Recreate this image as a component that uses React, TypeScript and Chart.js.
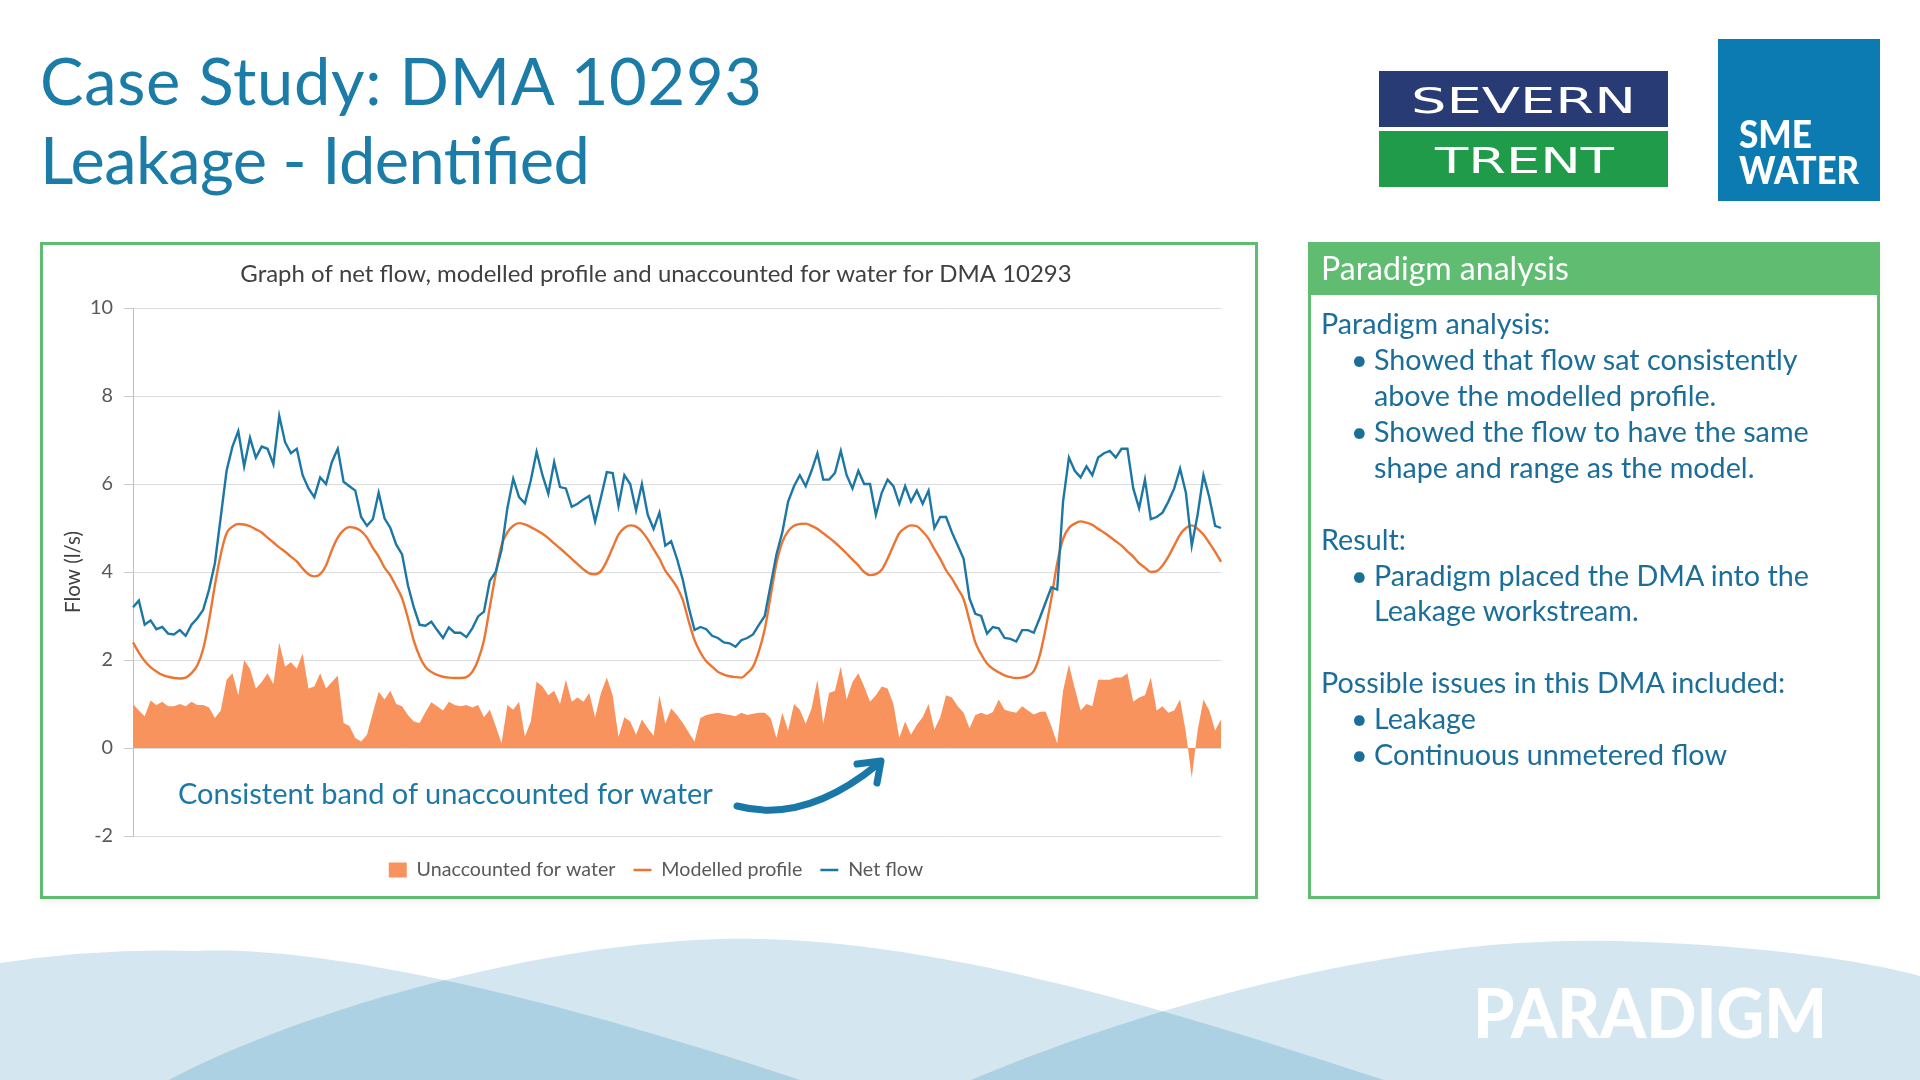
import React, { useEffect, useMemo, useRef } from 'react';
import { Chart, registerables } from 'chart.js';

Chart.register(...registerables);

const FONT = "Lato, 'Open Sans', 'Noto Sans', sans-serif";

// ---- chart text ----
const chartTitle = 'Graph of net flow, modelled profile and unaccounted for water for DMA 10293';
const seriesNames = ['Unaccounted for water', 'Modelled profile', 'Net flow'];
const yAxisTitle = 'Flow (l/s)';
const yMin = -2;
const yMax = 10;
const yStep = 2;

// ---- series (30-minute readings, ~4 days) ----
const netFlow = [
  3.2, 3.35, 2.8, 2.9, 2.7, 2.75, 2.6, 2.58, 2.68, 2.55, 2.8, 2.95, 3.14, 3.6, 4.2, 5.25,
  6.3, 6.85, 7.2, 6.4, 7.05, 6.6, 6.85, 6.8, 6.45, 7.55, 6.95, 6.7, 6.8, 6.2, 5.9, 5.7,
  6.15, 6.0, 6.5, 6.8, 6.05, 5.95, 5.85, 5.25, 5.05, 5.2, 5.8, 5.22, 5.0, 4.62, 4.4, 3.7,
  3.2, 2.8, 2.78, 2.87, 2.68, 2.5, 2.74, 2.62, 2.62, 2.52, 2.72, 2.99, 3.1, 3.8, 4.0, 4.5,
  5.45, 6.12, 5.7, 5.56, 6.08, 6.73, 6.2, 5.78, 6.5, 5.93, 5.9, 5.48, 5.55, 5.65, 5.73, 5.15,
  5.7, 6.27, 6.25, 5.5, 6.2, 6.0, 5.4, 6.0, 5.3, 4.98, 5.35, 4.6, 4.7, 4.3, 3.82, 3.2,
  2.68, 2.75, 2.7, 2.55, 2.5, 2.4, 2.38, 2.3, 2.45, 2.5, 2.58, 2.8, 3.0, 3.7, 4.4, 4.9,
  5.6, 5.95, 6.2, 5.95, 6.3, 6.7, 6.1, 6.1, 6.25, 6.75, 6.2, 5.9, 6.3, 6.0, 6.0, 5.3,
  5.8, 6.1, 5.95, 5.55, 5.95, 5.6, 5.85, 5.55, 5.85, 5.0, 5.25, 5.25, 4.9, 4.6, 4.3, 3.4,
  3.05, 3.0, 2.6, 2.75, 2.72, 2.5, 2.48, 2.42, 2.68, 2.68, 2.62, 2.95, 3.3, 3.65, 3.6, 5.6,
  6.6, 6.3, 6.15, 6.4, 6.2, 6.6, 6.7, 6.75, 6.6, 6.8, 6.8, 5.9, 5.45, 6.1, 5.2, 5.25,
  5.35, 5.6, 5.9, 6.35, 5.8, 4.6, 5.3, 6.2, 5.7, 5.05, 5.0,
];

const modelledProfile = [
  2.4, 2.17, 1.98, 1.84, 1.74, 1.66, 1.62, 1.59, 1.58, 1.6, 1.7, 1.88, 2.25, 2.9, 3.7, 4.4,
  4.88, 5.03, 5.09, 5.08, 5.04, 4.97, 4.9, 4.78, 4.67, 4.56, 4.46, 4.35, 4.24, 4.08, 3.95, 3.9,
  3.95, 4.15, 4.5, 4.78, 4.95, 5.02, 5.0, 4.93, 4.78, 4.55, 4.35, 4.1, 3.92, 3.67, 3.4, 2.95,
  2.44, 2.08, 1.84, 1.73, 1.66, 1.62, 1.6, 1.59, 1.59, 1.61, 1.73, 2.0, 2.45, 3.2, 3.95, 4.6,
  4.9, 5.05, 5.11, 5.08, 5.02, 4.95, 4.87, 4.77, 4.65, 4.54, 4.42, 4.3, 4.18, 4.06, 3.97, 3.95,
  4.02, 4.25, 4.55, 4.85, 5.0, 5.06, 5.03, 4.92, 4.74, 4.52, 4.3, 4.03, 3.85, 3.65, 3.36, 2.88,
  2.45, 2.17, 1.97, 1.85, 1.73, 1.67, 1.63, 1.61, 1.6, 1.7, 1.85, 2.2, 2.7, 3.45, 4.2, 4.68,
  4.93, 5.05, 5.09, 5.1, 5.05, 4.98, 4.88, 4.78, 4.67, 4.55, 4.42, 4.28, 4.15, 4.0, 3.93, 3.95,
  4.05, 4.3, 4.6, 4.88, 5.0, 5.06, 5.04, 4.92, 4.76, 4.52, 4.3, 4.04, 3.85, 3.62, 3.38, 2.9,
  2.4, 2.13, 1.92, 1.8, 1.72, 1.65, 1.61, 1.59, 1.6, 1.64, 1.75, 2.1, 2.7, 3.4, 4.2, 4.75,
  5.0, 5.1, 5.15, 5.12, 5.07, 4.98, 4.9, 4.8, 4.7, 4.6, 4.47, 4.35, 4.2, 4.1, 4.0, 4.02,
  4.15, 4.35, 4.6, 4.85, 5.0, 5.06, 4.98, 4.85, 4.66, 4.46, 4.23,
];

const unaccountedWater = [
  1.0, 0.85, 0.72, 1.08, 0.98, 1.05, 0.95, 0.95, 1.0, 0.95, 1.05, 0.98, 0.98, 0.92, 0.68, 0.85,
  1.55, 1.7, 1.2, 2.0, 1.8, 1.35, 1.5, 1.7, 1.45, 2.4, 1.85, 1.95, 1.8, 2.15, 1.35, 1.4,
  1.7, 1.35, 1.5, 1.65, 0.57, 0.5, 0.23, 0.15, 0.3, 0.8, 1.28, 1.1, 1.3, 1.0, 0.95, 0.75,
  0.6, 0.57, 0.82, 1.04, 0.95, 0.85, 1.05, 0.98, 0.95, 0.98, 0.92, 0.98, 0.7, 0.87, 0.5, 0.11,
  0.98, 0.87, 1.05, 0.26, 0.6, 1.51, 1.4, 1.2, 1.3, 1.0, 1.55, 1.05, 1.15, 1.05, 1.25, 0.7,
  1.25, 1.6, 1.2, 0.25, 0.7, 0.6, 0.3, 0.65, 0.45, 0.28, 1.2, 0.55, 0.9, 0.75, 0.57, 0.35,
  0.15, 0.68, 0.75, 0.78, 0.8, 0.77, 0.75, 0.72, 0.8, 0.75, 0.78, 0.8, 0.8, 0.68, 0.23, 0.8,
  0.4, 1.0, 0.87, 0.55, 0.9, 1.55, 0.55, 1.25, 1.3, 1.85, 1.1, 1.5, 1.7, 1.4, 1.05, 1.2,
  1.4, 1.35, 1.0, 0.23, 0.6, 0.3, 0.53, 0.7, 1.0, 0.42, 0.7, 1.2, 1.15, 0.95, 0.8, 0.45,
  0.75, 0.8, 0.75, 0.82, 1.1, 0.87, 0.83, 0.8, 0.95, 0.85, 0.76, 0.82, 0.83, 0.5, 0.1, 1.3,
  1.9, 1.35, 0.85, 1.0, 0.95, 1.55, 1.55, 1.55, 1.6, 1.6, 1.7, 1.05, 1.15, 1.2, 1.6, 0.85,
  0.95, 0.8, 0.85, 1.1, 0.35, -0.68, 0.4, 1.1, 0.85, 0.4, 0.65,
];

const timeLabels = netFlow.map((_, i) => {
  const mins = i * 30;
  const day = Math.floor(mins / 1440) + 1;
  const h = Math.floor((mins % 1440) / 60);
  const m = mins % 60;
  return `Day ${day} ${String(h).padStart(2, '0')}:${String(m).padStart(2, '0')}`;
});

// ---- slide text ----
const headline1 = 'Case Study: DMA 10293';
const headline2 = 'Leakage - Identified';
const annotation = 'Consistent band of unaccounted for water';
const panelHeader = 'Paradigm analysis';
const panelLines: { text: string; bullet: boolean; indent: boolean; row: number }[] = [
  { text: 'Paradigm analysis:', bullet: false, indent: false, row: 0 },
  { text: 'Showed that flow sat consistently', bullet: true, indent: true, row: 1 },
  { text: 'above the modelled profile.', bullet: false, indent: true, row: 2 },
  { text: 'Showed the flow to have the same', bullet: true, indent: true, row: 3 },
  { text: 'shape and range as the model.', bullet: false, indent: true, row: 4 },
  { text: 'Result:', bullet: false, indent: false, row: 6 },
  { text: 'Paradigm placed the DMA into the', bullet: true, indent: true, row: 7 },
  { text: 'Leakage workstream.', bullet: false, indent: true, row: 8 },
  { text: 'Possible issues in this DMA included:', bullet: false, indent: false, row: 10 },
  { text: 'Leakage', bullet: true, indent: true, row: 11 },
  { text: 'Continuous unmetered flow', bullet: true, indent: true, row: 12 },
];

const BLUE = '#1d77a5';
const ORANGE = '#ec7533';
const AREA = '#f9935d';
const GREEN = '#5fbc70';

let measureCtx: CanvasRenderingContext2D | null = null;
function fitSize(text: string, target: number, weight = 'normal'): number {
  if (!measureCtx) measureCtx = document.createElement('canvas').getContext('2d');
  if (!measureCtx) return 20;
  measureCtx.font = `${weight} 100px ${FONT}`;
  const w = measureCtx.measureText(text).width;
  return (100 * target) / w;
}

export default function App() {
  const canvasRef = useRef<HTMLCanvasElement | null>(null);

  const sz = useMemo(() => {
    return {
      headline: (fitSize(headline1, 722) + fitSize(headline2, 550)) / 2,
      chartTitle: fitSize(chartTitle, 832),
      legend: fitSize(seriesNames[0], 199),
      yTick: fitSize('10', 23),
      yTitle: fitSize(yAxisTitle, 82),
      annotation: fitSize(annotation, 537),
      header: fitSize(panelHeader, 248),
      body: (fitSize('Possible issues in this DMA included:', 470) + fitSize('Showed that flow sat consistently', 420)) / 2,
    };
  }, []);

  useEffect(() => {
    const canvas = canvasRef.current;
    if (!canvas) return;
    Chart.defaults.font.family = FONT;

    // geometry inside the 1212x651 canvas placed at (43,245)
    const titleLH = sz.chartTitle * 1.2;
    const titlePadTop = 29 - titleLH / 2;
    const titlePadBottom = 63 - titlePadTop - titleLH;
    const legPad = 18;
    const legFont = sz.legend;
    const legendTop = 870 - 245 - legPad - legFont / 2; // in canvas coords
    const legendHeight = legFont + legPad + 10;
    const layoutBottom = 651 - legendTop - legendHeight;
    const xTick = legendTop - (836 - 245);
    const yTitleLH = sz.yTitle * 1.2;

    const chart = new Chart(canvas, {
      type: 'line',
      data: {
        labels: timeLabels,
        datasets: [
          {
            label: seriesNames[0],
            data: unaccountedWater,
            fill: 'origin',
            backgroundColor: AREA,
            borderColor: AREA,
            borderWidth: 0,
            pointRadius: 0,
            tension: 0,
            pointStyle: 'rect',
            order: 3,
          },
          {
            label: seriesNames[1],
            data: modelledProfile,
            fill: false,
            borderColor: ORANGE,
            backgroundColor: ORANGE,
            borderWidth: 2.4,
            pointRadius: 0,
            cubicInterpolationMode: 'monotone',
            pointStyle: 'line',
            order: 2,
          },
          {
            label: seriesNames[2],
            data: netFlow,
            fill: false,
            borderColor: BLUE,
            backgroundColor: BLUE,
            borderWidth: 2.4,
            pointRadius: 0,
            tension: 0,
            pointStyle: 'line',
            order: 1,
          },
        ],
      },
      options: {
        animation: false,
        responsive: false,
        devicePixelRatio: 1,
        layout: { padding: { left: 48, right: 34, top: 0, bottom: layoutBottom } },
        plugins: {
          tooltip: { enabled: false },
          title: {
            display: true,
            text: chartTitle,
            color: '#404040',
            font: { size: sz.chartTitle, weight: 'normal', family: FONT },
            padding: { top: titlePadTop, bottom: titlePadBottom },
          },
          legend: {
            display: true,
            position: 'bottom',
            labels: {
              color: '#595959',
              font: { size: legFont, family: FONT },
              usePointStyle: true,
              pointStyleWidth: 18,
              boxHeight: 15,
              padding: legPad,
              sort: (a: any, b: any) => a.datasetIndex - b.datasetIndex,
            },
          },
        },
        scales: {
          x: {
            type: 'category',
            display: true,
            offset: false,
            ticks: { display: false },
            grid: { display: true, drawOnChartArea: false, drawTicks: true, tickLength: xTick, color: 'rgba(0,0,0,0)' },
            border: { display: false },
          },
          y: {
            min: yMin,
            max: yMax,
            ticks: { stepSize: yStep, color: '#595959', font: { size: sz.yTick, family: FONT }, padding: 11 },
            grid: { color: '#dcdcdc', lineWidth: 1, drawTicks: true, tickLength: 9, tickColor: '#c8c8c8' },
            border: { display: true, color: '#bfbfbf', width: 1 },
            title: {
              display: true,
              text: yAxisTitle,
              color: '#404040',
              font: { size: sz.yTitle, family: FONT },
              padding: { top: 73 - 91 - yTitleLH / 2, bottom: 0 },
            },
            afterFit: (scale: any) => {
              scale.width = 42;
            },
          },
        },
      },
    } as any);
    return () => chart.destroy();
  }, [sz]);

  const rowY = (row: number) => 327 + row * 35.9;

  return (
    <div
      style={{
        position: 'fixed',
        left: 0,
        top: 0,
        width: 1920,
        height: 1080,
        background: '#ffffff',
        overflow: 'hidden',
        fontFamily: FONT,
      }}
    >
      {/* chart box */}
      <div
        style={{
          position: 'absolute',
          left: 40,
          top: 242,
          width: 1218,
          height: 657,
          boxSizing: 'border-box',
          border: `3px solid ${GREEN}`,
          background: '#fff',
          boxShadow: '0 3px 6px rgba(0,0,0,0.06)',
        }}
      >
        <canvas ref={canvasRef} width={1212} height={651} style={{ display: 'block', width: 1212, height: 651 }} />
      </div>

      {/* analysis panel */}
      <div
        style={{
          position: 'absolute',
          left: 1308,
          top: 242,
          width: 572,
          height: 657,
          boxSizing: 'border-box',
          border: `3px solid ${GREEN}`,
          background: '#fff',
          boxShadow: '0 3px 6px rgba(0,0,0,0.06)',
        }}
      >
        <div style={{ height: 50, background: GREEN }} />
      </div>

      <svg
        width={1920}
        height={1080}
        style={{ position: 'absolute', left: 0, top: 0, pointerEvents: 'none' }}
      >
        <defs>
          <clipPath id="waveA">
            <path d="M 0 963 Q 100 948 196 951 C 330 945 560 1000 800 1080 L 0 1080 Z" />
          </clipPath>
          <clipPath id="waveB">
            <path d="M 169 1080 C 300 1010 560 935 759 939 C 960 943 1200 1020 1384 1080 Z" />
          </clipPath>
        </defs>
        {/* bottom waves */}
        <path d="M 0 963 Q 100 948 196 951 C 330 945 560 1000 800 1080 L 0 1080 Z" fill="#d4e6ef" />
        <path d="M 169 1080 C 300 1010 560 935 759 939 C 960 943 1200 1020 1384 1080 Z" fill="#d4e6ef" />
        <path d="M 971 1080 C 1150 1005 1400 935 1616 941 C 1760 945 1860 960 1920 976 L 1920 1080 Z" fill="#d4e6ef" />
        <path
          d="M 169 1080 C 300 1010 560 935 759 939 C 960 943 1200 1020 1384 1080 Z"
          fill="#acd1e2"
          clipPath="url(#waveA)"
        />
        <path
          d="M 971 1080 C 1150 1005 1400 935 1616 941 C 1760 945 1860 960 1920 976 L 1920 1080 Z"
          fill="#acd1e2"
          clipPath="url(#waveB)"
        />
        <text
          x={1473}
          y={1038}
          fill="#ffffff"
          fontFamily={FONT}
          fontWeight={900}
          fontSize={68}
          textLength={354}
          lengthAdjust="spacingAndGlyphs"
        >
          PARADIGM
        </text>

        {/* headline */}
        <text x={40} y={105} fill="#1b7ca7" fontFamily={FONT} fontSize={sz.headline} textLength={722} lengthAdjust="spacing">
          {headline1}
        </text>
        <text x={40} y={184} fill="#1b7ca7" fontFamily={FONT} fontSize={sz.headline} textLength={550} lengthAdjust="spacing">
          {headline2}
        </text>

        {/* Severn Trent logo */}
        <rect x={1379} y={71} width={289} height={56} fill="#283b74" />
        <rect x={1379} y={131} width={289} height={56} fill="#1f9b49" />
        <text
          x={1411}
          y={113}
          fill="#ffffff"
          fontFamily="'DejaVu Sans', sans-serif"
          fontSize={36}
          textLength={225}
          lengthAdjust="spacingAndGlyphs"
        >
          SEVERN
        </text>
        <text
          x={1435}
          y={173}
          fill="#ffffff"
          fontFamily="'DejaVu Sans', sans-serif"
          fontSize={36}
          textLength={179}
          lengthAdjust="spacingAndGlyphs"
        >
          TRENT
        </text>

        {/* SME Water logo */}
        <rect x={1718} y={39} width={162} height={162} fill="#0c7bb1" />
        <text
          x={1739}
          y={148}
          fill="#ffffff"
          fontFamily={FONT}
          fontWeight={900}
          fontSize={37}
          textLength={73}
          lengthAdjust="spacingAndGlyphs"
        >
          SME
        </text>
        <text
          x={1739}
          y={184}
          fill="#ffffff"
          fontFamily={FONT}
          fontWeight={900}
          fontSize={37}
          textLength={120}
          lengthAdjust="spacingAndGlyphs"
        >
          WATER
        </text>

        {/* panel text */}
        <text x={1321} y={272} fill="#ffffff" fontFamily={FONT} fontSize={sz.header} dominantBaseline="middle">
          {panelHeader}
        </text>
        {panelLines.map((l, i) => (
          <g key={i}>
            {l.bullet && (
              <text x={1351} y={rowY(l.row)} fill="#1b6e99" fontFamily={FONT} fontSize={sz.body} dominantBaseline="middle">
                •
              </text>
            )}
            <text
              x={l.indent ? 1374 : 1321}
              y={rowY(l.row)}
              fill="#1b6e99"
              fontFamily={FONT}
              fontSize={sz.body}
              dominantBaseline="middle"
            >
              {l.text}
            </text>
          </g>
        ))}

        {/* annotation */}
        <text x={178} y={804} fill="#1c78a6" fontFamily={FONT} fontSize={sz.annotation}>
          {annotation}
        </text>
        <path
          d="M 737 806 Q 805 824 878 764"
          fill="none"
          stroke="#1a78a8"
          strokeWidth={7}
          strokeLinecap="round"
        />
        <path
          d="M 857 764 L 881 761 L 877 783"
          fill="none"
          stroke="#1a78a8"
          strokeWidth={7}
          strokeLinecap="round"
          strokeLinejoin="round"
        />
      </svg>
    </div>
  );
}
